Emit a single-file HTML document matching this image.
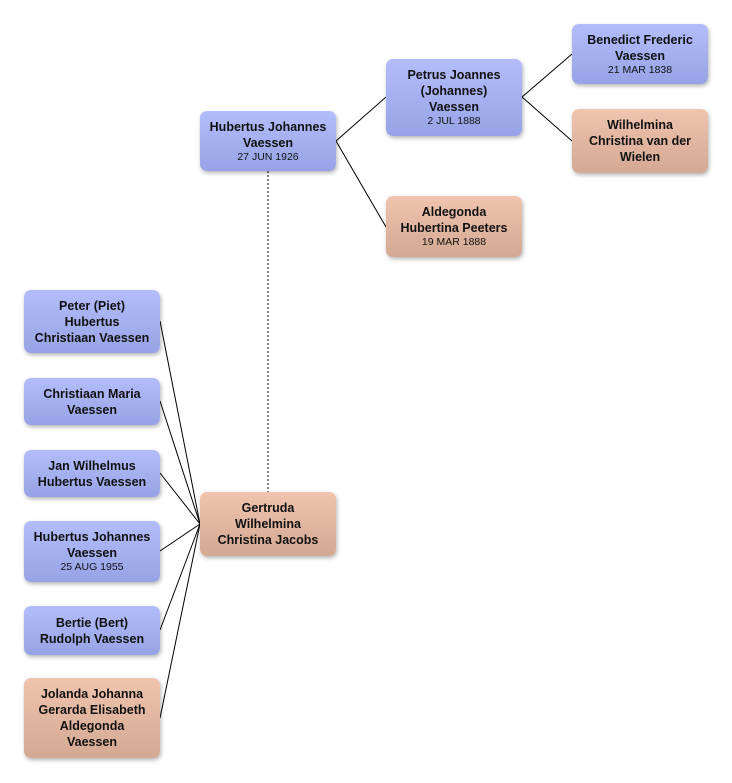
<!DOCTYPE html>
<html><head><style>
body{margin:0;width:732px;height:783px;background:#fff;position:relative;font-family:"Liberation Sans","DejaVu Sans",sans-serif;overflow:hidden}
.n{position:absolute;box-sizing:border-box;border-radius:7px;display:flex;flex-direction:column;justify-content:center;align-items:center;text-align:center;font-size:12.5px;font-weight:bold;line-height:16px;color:#111;box-shadow:1px 2px 4px rgba(0,0,0,.3)}
.m{background:linear-gradient(#b4bdfb,#97a3e6)}
.f{background:linear-gradient(#f0c4ad,#d3a993)}
.d{font-weight:normal;font-size:10.5px;line-height:13px}
svg{position:absolute;left:0;top:0}
</style></head><body>
<svg width="732" height="783" stroke="#000" stroke-width="1" fill="none">
<line x1="336" y1="141" x2="386" y2="97"/><line x1="336" y1="141" x2="386" y2="227"/>
<line x1="522" y1="97" x2="572" y2="54"/><line x1="522" y1="97" x2="572" y2="141"/>
<line x1="268" y1="171" x2="268" y2="492" stroke-dasharray="2,2"/>
<line x1="160" y1="321" x2="200" y2="524"/><line x1="160" y1="401" x2="200" y2="524"/>
<line x1="160" y1="473" x2="200" y2="524"/><line x1="160" y1="551" x2="200" y2="524"/>
<line x1="160" y1="630" x2="200" y2="524"/><line x1="160" y1="718" x2="200" y2="524"/>
</svg>
<div class="n m" style="left:200px;top:111px;width:136px;height:60px">Hubertus Johannes<br>Vaessen<span class="d">27 JUN 1926</span></div>
<div class="n m" style="left:386px;top:59px;width:136px;height:77px">Petrus Joannes<br>(Johannes)<br>Vaessen<span class="d">2 JUL 1888</span></div>
<div class="n f" style="left:386px;top:196px;width:136px;height:61px">Aldegonda<br>Hubertina Peeters<span class="d">19 MAR 1888</span></div>
<div class="n m" style="left:572px;top:24px;width:136px;height:60px">Benedict Frederic<br>Vaessen<span class="d">21 MAR 1838</span></div>
<div class="n f" style="left:572px;top:109px;width:136px;height:64px">Wilhelmina<br>Christina van der<br>Wielen</div>
<div class="n f" style="left:200px;top:492px;width:136px;height:64px">Gertruda<br>Wilhelmina<br>Christina Jacobs</div>
<div class="n m" style="left:24px;top:290px;width:136px;height:63px">Peter (Piet)<br>Hubertus<br>Christiaan Vaessen</div>
<div class="n m" style="left:24px;top:378px;width:136px;height:47px">Christiaan Maria<br>Vaessen</div>
<div class="n m" style="left:24px;top:450px;width:136px;height:47px">Jan Wilhelmus<br>Hubertus Vaessen</div>
<div class="n m" style="left:24px;top:521px;width:136px;height:61px">Hubertus Johannes<br>Vaessen<span class="d">25 AUG 1955</span></div>
<div class="n m" style="left:24px;top:606px;width:136px;height:49px">Bertie (Bert)<br>Rudolph Vaessen</div>
<div class="n f" style="left:24px;top:678px;width:136px;height:80px">Jolanda Johanna<br>Gerarda Elisabeth<br>Aldegonda<br>Vaessen</div>
</body></html>
